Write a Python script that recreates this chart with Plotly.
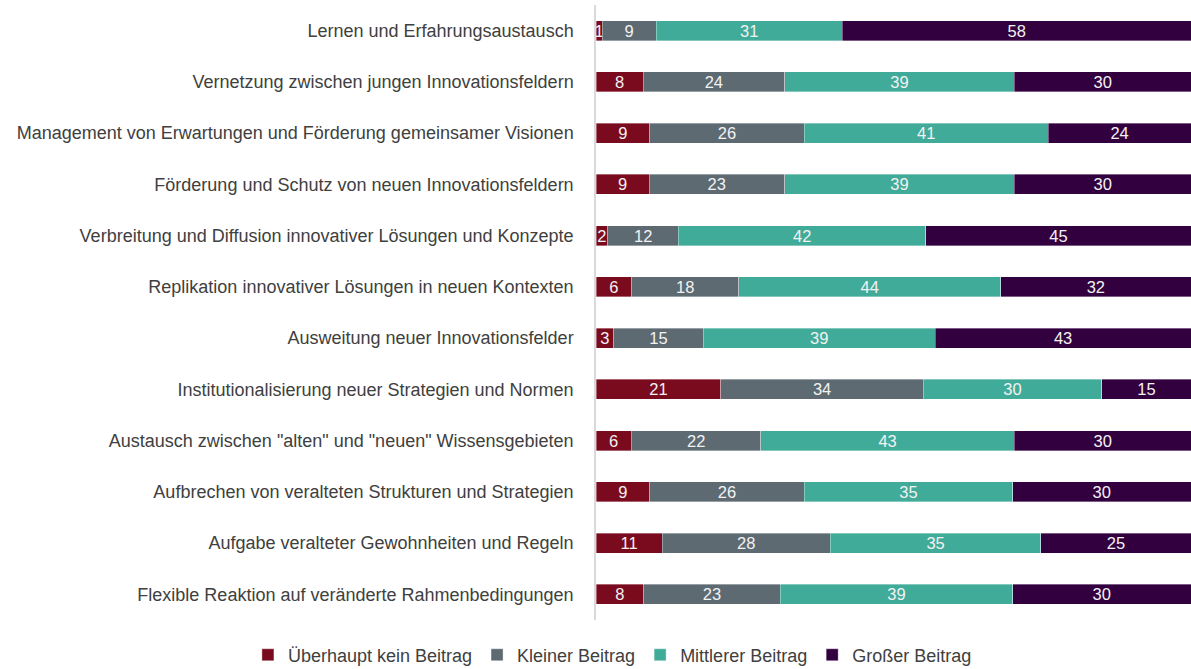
import plotly.graph_objects as go

categories = [
    "Lernen und Erfahrungsaustausch",
    "Vernetzung zwischen jungen Innovationsfeldern",
    "Management von Erwartungen und Förderung gemeinsamer Visionen",
    "Förderung und Schutz von neuen Innovationsfeldern",
    "Verbreitung und Diffusion innovativer Lösungen und Konzepte",
    "Replikation innovativer Lösungen in neuen Kontexten",
    "Ausweitung neuer Innovationsfelder",
    "Institutionalisierung neuer Strategien und Normen",
    "Austausch zwischen \"alten\" und \"neuen\" Wissensgebieten",
    "Aufbrechen von veralteten Strukturen und Strategien",
    "Aufgabe veralteter Gewohnheiten und Regeln",
    "Flexible Reaktion auf veränderte Rahmenbedingungen",
]

kein_beitrag = [1, 8, 9, 9, 2, 6, 3, 21, 6, 9, 11, 8]
kleiner_beitrag = [9, 24, 26, 23, 12, 18, 15, 34, 22, 26, 28, 23]
mittlerer_beitrag = [31, 39, 41, 39, 42, 44, 39, 30, 43, 35, 35, 39]
grosser_beitrag = [58, 30, 24, 30, 45, 32, 43, 15, 30, 30, 25, 30]

series = [
    ("Überhaupt kein Beitrag", kein_beitrag, "#7A0A1E"),
    ("Kleiner Beitrag", kleiner_beitrag, "#5D6A72"),
    ("Mittlerer Beitrag", mittlerer_beitrag, "#41AB99"),
    ("Großer Beitrag", grosser_beitrag, "#33003F"),
]

font_family = "Liberation Sans, Arial, sans-serif"

fig = go.Figure()
for name, values, color in series:
    fig.add_trace(go.Bar(
        name=name,
        y=categories,
        x=values,
        orientation="h",
        marker=dict(color=color, line=dict(color="rgba(255,255,255,0.6)", width=0.6)),
        text=values,
        textposition="inside",
        textangle=0,
        insidetextanchor="middle",
        textfont=dict(color="#F2F2F2", size=16.5, family=font_family),
        cliponaxis=False,
        hoverinfo="x+y+name",
    ))

fig.update_layout(
    barmode="stack",
    barnorm="percent",
    bargap=0.61,
    width=1191,
    height=669,
    margin=dict(l=596, r=0, t=5, b=49, autoexpand=False),
    paper_bgcolor="white",
    plot_bgcolor="white",
    font=dict(family=font_family, size=18, color="#404040"),
    uniformtext=dict(minsize=16.5, mode="show"),
    xaxis=dict(range=[0, 100], visible=False, fixedrange=True),
    yaxis=dict(
        autorange="reversed",
        showline=True,
        linecolor="#D9D9D9",
        linewidth=1.5,
        ticks="",
        ticklabelstandoff=17,
        tickfont=dict(size=18, color="#404040"),
        showgrid=False,
    ),
    legend=dict(
        orientation="h",
        xref="paper",
        yref="paper",
        x=-0.585,
        xanchor="left",
        y=-0.057,
        yanchor="middle",
        font=dict(size=18, color="#404040"),
        itemwidth=30,
        traceorder="normal",
    ),
)

fig.write_html("out.html")
